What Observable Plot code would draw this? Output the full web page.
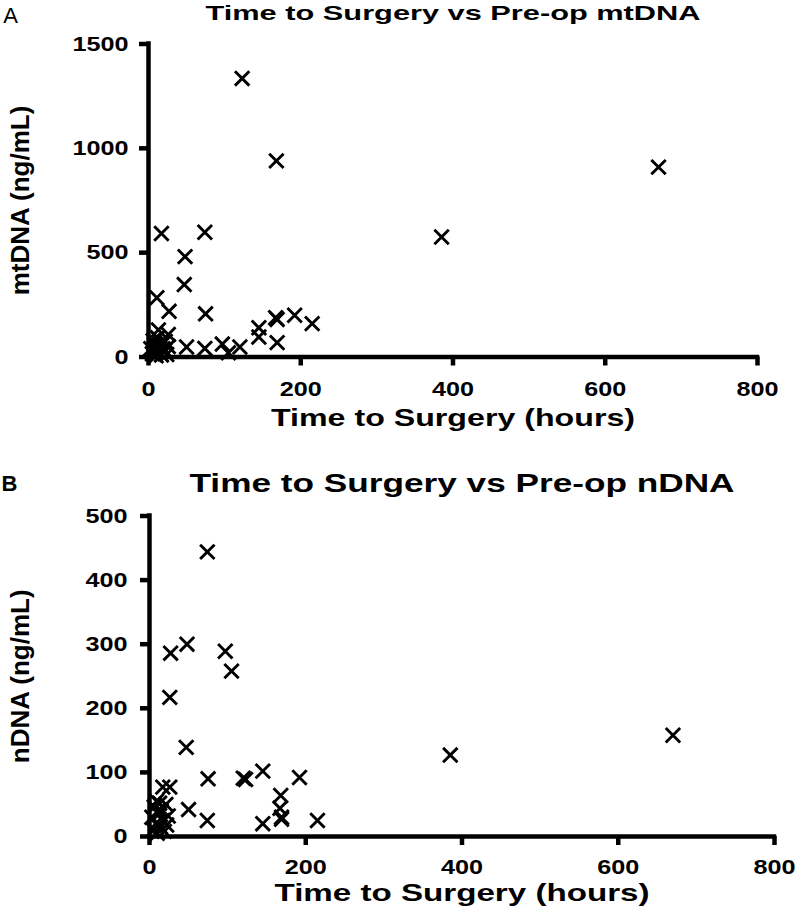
<!DOCTYPE html>
<html><head><meta charset="utf-8">
<script src="https://cdn.jsdelivr.net/npm/d3@7"></script>
<script src="https://cdn.jsdelivr.net/npm/@observablehq/plot@0.6"></script>
<style>
body{margin:0;background:#fff;}
#wrap{position:relative;width:800px;height:918px;overflow:hidden;background:#fff;}
#wrap svg{position:absolute;left:0;}
</style></head><body><div id="wrap"></div>
<script>
// Time to surgery (hours) per patient, with pre-op mtDNA and nDNA (ng/mL)
const hours = [670, 385, 215, 192, 168, 167, 169, 169, 145, 145, 123, 120, 97, 105, 74, 75, 74, 48, 47, 50, 27, 26, 26, 17, 13, 11, 3, 5, 6, 8, 9, 10, 12, 14, 15, 17, 19, 21, 22, 24];
const mtDNA = [910, 575, 160, 200, 940, 188, 180, 69, 140, 96, 1335, 48, 62, 20, 598, 207, 41, 481, 347, 48, 219, 108, 50, 592, 130, 284, 40, 15, 78, 30, 58, 6, 92, 25, 62, 10, 40, 30, 75, 12];
const nDNA = [158, 127, 25, 92, 64, 44, 30, 27, 102, 20, 89, 91, 289, 258, 444, 90, 25, 300, 139, 42, 286, 217, 77, 77, 52, 40, 30, 10, 46, 20, 55, 5, 35, 15, 40, 25, 8, 50, 18, 32];
const xTicks = [0, 200, 400, 600, 800];
const mtTicks = [0, 500, 1000, 1500];
const nTicks = [0, 100, 200, 300, 400, 500];

const FONT = "'Liberation Sans', Arial, Helvetica, sans-serif";

function panel(cfg) {
  const data = hours.map((h, i) => ({h, v: cfg.values[i]}));
  const svg = Plot.plot({
    width: 800, height: cfg.height,
    marginLeft: cfg.left, marginRight: 800 - cfg.right,
    marginTop: cfg.marginTop, marginBottom: cfg.marginBottom,
    style: {fontFamily: FONT, color: "#000", background: "#fff", overflow: "visible"},
    x: {domain: [0, 800]},
    y: {domain: [0, cfg.yMax]},
    marks: [
      Plot.axisX(xTicks, {tickSize: 9, tickPadding: cfg.xPad, strokeWidth: 4.5, fontSize: 21, fontWeight: "bold", label: null, tickFormat: d => String(d)}),
      Plot.axisY(cfg.yTicks, {tickSize: 9, tickPadding: cfg.yPad, strokeWidth: 4.5, fontSize: 21, fontWeight: "bold", label: null, tickFormat: d => String(d)}),
      Plot.ruleY([0], {strokeWidth: 4.5, strokeLinecap: "square"}),
      Plot.ruleX([0], {strokeWidth: 4.5, strokeLinecap: "square"}),
      Plot.dot(data, {x: "h", y: "v", symbol: "times", r: 6.6, stroke: "#000", strokeWidth: 2.9}),
      Plot.text([cfg.title], {frameAnchor: "top", dy: cfg.titleDy, fontSize: cfg.titleSize, fontWeight: "bold", lineAnchor: "middle", textAnchor: "middle", fill: "#000"}),
      Plot.text([cfg.letter], {frameAnchor: "top-left", dx: cfg.letterDx, dy: cfg.letterDy, fontSize: 22, fontWeight: cfg.letterWeight, lineAnchor: "middle", textAnchor: "middle", fill: "#000"}),
      Plot.text([cfg.ylabel], {frameAnchor: "left", dx: cfg.ylabelDx, rotate: -90, fontSize: 26, fontWeight: "bold", lineAnchor: "middle", textAnchor: "middle", fill: "#000"}),
      Plot.text(["Time to Surgery (hours)"], {frameAnchor: "bottom", dy: cfg.xlabelDy, fontSize: 24, fontWeight: "bold", lineAnchor: "middle", textAnchor: "middle", fill: "#000"})
    ]
  });
  svg.style.top = cfg.top + "px";
  document.getElementById("wrap").appendChild(svg);
  // widen horizontal texts like the reference
  svg.querySelectorAll("text").forEach(t => {
    const s = t.textContent;
    let target = null;
    if (cfg.widths[s] != null) target = cfg.widths[s];
    else if (/^\d+$/.test(s)) target = t.getComputedTextLength() * 1.2;
    if (target) {
      t.setAttribute("textLength", target);
      t.setAttribute("lengthAdjust", "spacingAndGlyphs");
    }
  });
}

panel({
  values: mtDNA, yTicks: mtTicks, yMax: 1500,
  top: 0, height: 440, left: 148, right: 757, marginTop: 43.5, marginBottom: 83.5,
  xPad: 15, yPad: 11,
  title: "Time to Surgery vs Pre-op mtDNA", titleSize: 21, titleDy: -31,
  letter: "A", letterDx: -138, letterDy: -28, letterWeight: "normal",
  ylabel: "mtDNA (ng/mL)", ylabelDx: -128, xlabelDy: 61.5,
  widths: {"Time to Surgery vs Pre-op mtDNA": 495, "Time to Surgery (hours)": 364}
});

panel({
  values: nDNA, yTicks: nTicks, yMax: 500,
  top: 450, height: 468, left: 149, right: 774, marginTop: 65.5, marginBottom: 82,
  xPad: 14, yPad: 13,
  title: "Time to Surgery vs Pre-op nDNA", titleSize: 25, titleDy: -32.5,
  letter: "B", letterDx: -140, letterDy: -32.5, letterWeight: "bold",
  ylabel: "nDNA (ng/mL)", ylabelDx: -129, xlabelDy: 57,
  widths: {"Time to Surgery vs Pre-op nDNA": 545, "Time to Surgery (hours)": 375}
});
</script></body></html>
